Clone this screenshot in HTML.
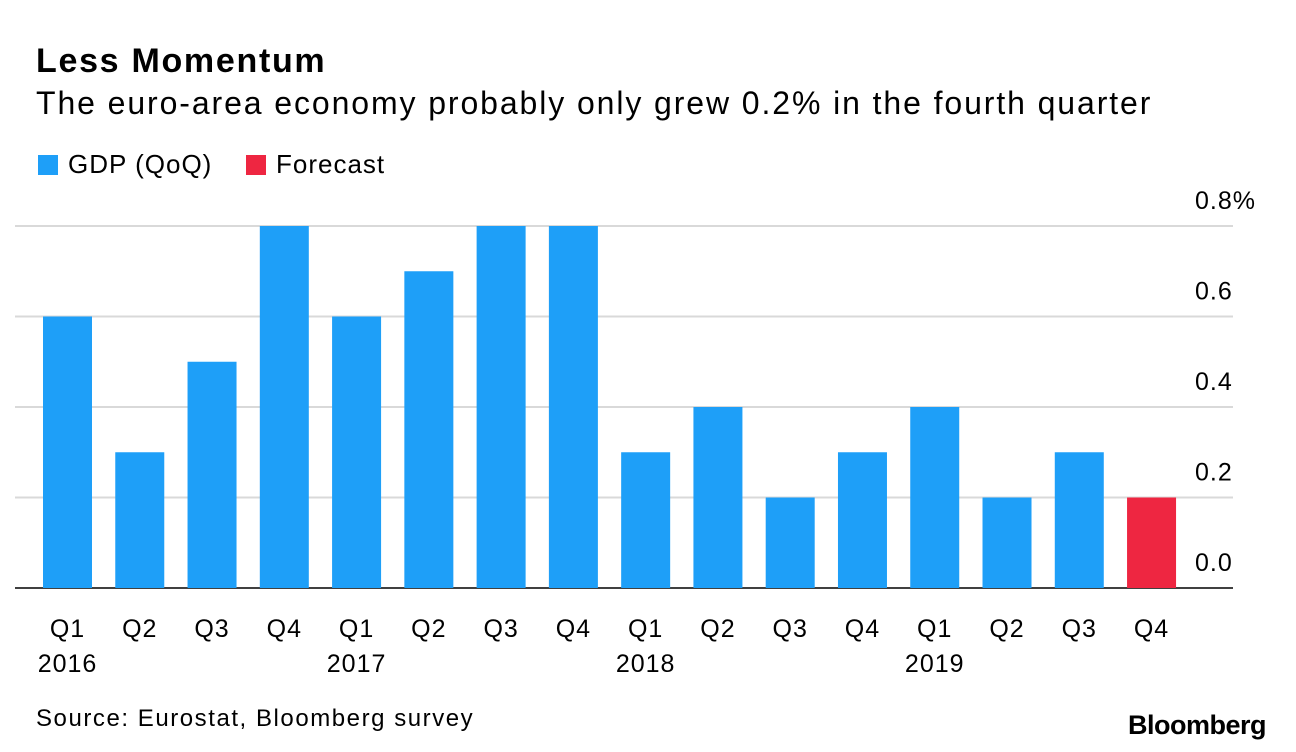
<!DOCTYPE html>
<html><head><meta charset="utf-8">
<style>
body{margin:0;background:#fff;font-family:"Liberation Sans",Arial,sans-serif;}
#wrap{position:relative;width:1296px;height:752px;overflow:hidden;background:#fff;}
.t{position:absolute;white-space:nowrap;color:#000;}
</style></head><body>
<div id="wrap">
<div class="t" style="left:36px;top:42px;font-size:34px;font-weight:bold;letter-spacing:1.7px;">Less Momentum</div>
<div class="t" style="left:36px;top:85px;font-size:32px;letter-spacing:1.9px;">The euro-area economy probably only grew 0.2% in the fourth quarter</div>
<div class="t" style="left:38px;top:149px;font-size:26px;letter-spacing:1px;"><span style="display:inline-block;width:20px;height:20px;background:#1e9ff8;vertical-align:-2px;margin-right:10px;"></span>GDP (QoQ)</div>
<div class="t" style="left:246px;top:149px;font-size:26px;letter-spacing:1px;"><span style="display:inline-block;width:20px;height:20px;background:#ee2641;vertical-align:-2px;margin-right:10px;"></span>Forecast</div>
<svg id="plot" width="1296" height="752" style="position:absolute;left:0;top:0"></svg>
<div class="t" style="left:36px;top:705px;font-size:24px;letter-spacing:1.55px;">Source: Eurostat, Bloomberg survey</div>
<div class="t" style="left:1128px;top:710px;font-size:27px;font-weight:bold;letter-spacing:-0.5px;">Bloomberg</div>
</div>
<script>
const quarters=["Q1","Q2","Q3","Q4","Q1","Q2","Q3","Q4","Q1","Q2","Q3","Q4","Q1","Q2","Q3","Q4"];
const years=["2016","","","","2017","","","","2018","","","","2019","","",""];
const values=[0.6,0.3,0.5,0.8,0.6,0.7,0.8,0.8,0.3,0.4,0.2,0.3,0.4,0.2,0.3,0.2];
const isForecast=[0,0,0,0,0,0,0,0,0,0,0,0,0,0,0,1];
const ticks=[0,0.2,0.4,0.6,0.8];
const tickLabels=["0.0","0.2","0.4","0.6","0.8%"];
const NS="http://www.w3.org/2000/svg";
const svg=document.getElementById('plot');
function y(v){return 588-v*(362/0.8);}
function x(i){return 43+i*72.27;}
const bw=49;
function mk(t,a){const e=document.createElementNS(NS,t);for(const k in a)e.setAttribute(k,a[k]);svg.appendChild(e);return e;}
ticks.forEach((t,i)=>{
  const l=mk('line',{x1:15,x2:1233,y1:y(t),y2:y(t),stroke:t===0?'#000':'#d9d9d9','stroke-width':t===0?1.5:2});
  
  
  const tx=mk('text',{x:1195,y:y(t)-17,'font-size':25,'letter-spacing':1,'font-family':'Liberation Sans, Arial, sans-serif',fill:'#000'});
  tx.textContent=tickLabels[i];
  
  
});
values.forEach((v,i)=>{
  const r=mk('rect',{x:x(i),y:y(v),width:bw,height:y(0)-y(v),fill:isForecast[i]?'#ee2641':'#1e9ff8'});
  
  
  const q=mk('text',{x:x(i)+bw/2,y:637,'font-size':25,'letter-spacing':1,'text-anchor':'middle','font-family':'Liberation Sans, Arial, sans-serif',fill:'#000'});
  q.textContent=quarters[i];
  
  
  if(years[i]){
    const yt=mk('text',{x:x(i)+bw/2,y:672,'font-size':25,'letter-spacing':1,'text-anchor':'middle','font-family':'Liberation Sans, Arial, sans-serif',fill:'#000'});
    yt.textContent=years[i];
    
    
  }
});
</script>
</body></html>
